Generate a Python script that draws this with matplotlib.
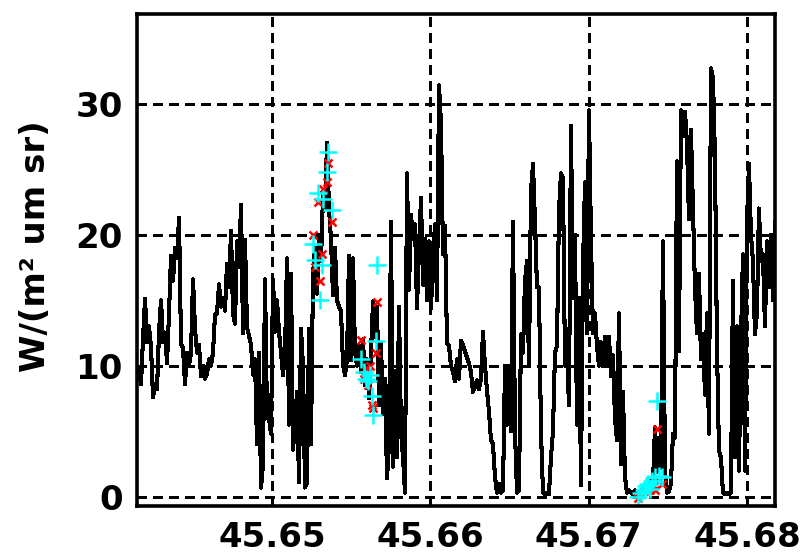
import numpy as np
import matplotlib
matplotlib.use("Agg")
import matplotlib.pyplot as plt
from matplotlib.ticker import FixedLocator, FormatStrFormatter

# ---- data -------------------------------------------------------------
time_start = 45.64148      # first sample time
time_step = 0.00012626     # regular sampling interval

radiance = [
    9.0, 9.8, 8.6, 12.1, 15.1, 11.8, 13.0, 11.4, 7.6, 8.6, 8.2, 12.6, 15.0, 11.8, 12.5, 10.2,
    14.0, 18.4, 16.5, 19.0, 18.2, 21.3, 11.7, 11.3, 8.6, 11.0, 10.0, 11.0, 16.6, 12.8, 11.0, 11.6,
    9.2, 10.0, 9.0, 9.4, 10.5, 10.0, 11.0, 13.9, 14.0, 16.2, 14.5, 15.2, 14.2, 17.8, 16.0, 20.3,
    14.0, 13.2, 19.5, 17.5, 22.3, 12.5, 19.6, 12.9, 12.3, 11.6, 9.3, 10.5, 4.0, 11.0, 0.7, 2.5,
    16.6, 6.0, 6.0, 4.8, 16.6, 12.6, 15.0, 12.6, 11.0, 9.3, 11.0, 18.2, 5.5, 17.0, 3.6, 5.5,
    8.0, 1.1, 12.8, 10.0, 0.7, 1.0, 12.8, 4.0, 17.0, 19.0, 15.5, 20.0, 18.0, 23.0, 22.0, 27.0,
    22.0, 19.6, 15.4, 19.0, 15.0, 14.5, 14.2, 10.1, 9.3, 10.5, 18.4, 10.4, 18.2, 11.1, 10.0, 11.5,
    9.5, 12.0, 8.5, 10.5, 7.5, 11.0, 14.9, 12.2, 14.5, 7.0, 11.7, 6.3, 9.0, 1.4, 4.0, 21.0,
    2.3, 9.6, 3.0, 14.5, 5.0, 3.0, 0.3, 24.7, 15.8, 21.5, 19.7, 20.8, 14.4, 19.0, 22.8, 16.2,
    19.7, 15.0, 19.5, 14.4, 18.0, 20.8, 15.0, 31.4, 28.5, 18.5, 20.7, 11.7, 11.5, 10.0, 9.5, 8.8,
    10.5, 9.0, 11.9, 11.6, 11.1, 10.6, 10.2, 9.5, 8.0, 8.4, 8.9, 8.2, 9.0, 12.6, 10.0, 8.1,
    6.5, 4.3, 4.0, 1.5, 0.3, 1.0, 0.3, 0.5, 10.0, 5.5, 10.0, 5.0, 21.0, 5.0, 0.3, 0.5,
    12.4, 11.0, 16.5, 18.0, 10.0, 23.3, 25.4, 21.0, 16.0, 16.0, 5.0, 0.3, 0.2, 0.3, 0.2, 3.0,
    5.0, 11.0, 11.5, 21.8, 24.7, 24.3, 10.0, 11.0, 7.0, 28.3, 15.2, 20.0, 5.5, 15.2, 0.9, 17.5,
    24.0, 12.5, 29.5, 19.7, 12.5, 14.0, 11.5, 10.0, 11.8, 10.0, 12.2, 10.0, 12.2, 9.2, 10.8, 6.0,
    4.3, 14.0, 2.5, 8.0, 1.5, 0.3, 0.5, 0.3, 0.2, 0.5, 0.2, 0.0, 0.3, 0.5, 0.8, 1.0,
    0.6, 1.2, 1.0, 5.3, 1.9, 4.5, 2.2, 19.5, 2.0, 0.3, 0.4, 1.0, 4.8, 4.5, 25.6, 11.1,
    29.5, 27.5, 29.4, 27.0, 21.2, 28.0, 22.0, 16.0, 12.5, 17.0, 10.5, 12.4, 7.8, 14.0, 4.8, 32.7,
    32.0, 26.0, 11.5, 3.5, 3.0, 0.3, 0.2, 0.3, 0.2, 0.3, 16.5, 3.0, 13.0, 2.0, 12.0, 18.5,
    2.0, 21.0, 25.4, 20.0, 18.0, 12.4, 14.0, 22.0, 18.0, 18.5, 13.0, 19.5, 16.0, 20.0, 15.0, 21.0,
    18.5,
]

marker_time = [
    45.65259, 45.65272, 45.65291, 45.65304, 45.65316, 45.65323, 45.65348, 45.65354, 45.65379,
    45.65562, 45.65581, 45.65594, 45.65607, 45.65619, 45.65632, 45.65638, 45.65657, 45.65663,
    45.67311, 45.67330, 45.67349, 45.67362, 45.67374, 45.67387, 45.67400, 45.67419, 45.67431,
    45.67444, 45.67463,
]
red_values = [
    20.0, 17.5, 22.5, 16.5, 18.5, 23.5, 24.0, 25.5, 21.0,
    12.0, 9.0, 9.8, 8.5, 10.0, 7.0, 6.8, 11.0, 14.9,
    -0.1, 0.2, 0.4, 0.6, 0.8, 0.5, 1.0, 0.5, 5.2, 1.2, 1.0,
]
cyan_values = [
    19.3, 18.1, 23.2, 15.0, 17.7, 22.7, 24.8, 26.3, 21.9,
    10.5, 9.5, 9.0, 8.8, 9.3, 7.7, 6.2, 11.9, 17.7,
    0.0, 0.3, 0.5, 0.8, 1.0, 0.6, 1.2, 1.5, 7.3, 1.6, 1.5,
]

x_ticks = [45.65, 45.66, 45.67, 45.68]
y_ticks = [0, 10, 20, 30]
y_label = "W/(m² um sr)"

# ---- figure -----------------------------------------------------------
W, H = 806, 553
fig = plt.figure(figsize=(W / 100, H / 100), dpi=100)
left, right, top, bottom = 136.7, 775.0, 14.0, 506.0
ax = fig.add_axes([left / W, 1 - bottom / H, (right - left) / W, (bottom - top) / H])

t = time_start + time_step * np.arange(len(radiance))
ax.plot(t, radiance, color="black", lw=2.2, zorder=3, antialiased=False)
ax.plot(marker_time, red_values, linestyle="none", marker="x", color="#ff0000",
        ms=6, mew=1.8, zorder=4, antialiased=False)
ax.plot(marker_time, cyan_values, linestyle="none", marker="+", color="#00ffff",
        ms=13, mew=1.8, zorder=5, antialiased=False)

ax.set_xlim(45.64146, 45.68176)
ax.set_ylim(-0.71, 36.85)
ax.xaxis.set_major_locator(FixedLocator(x_ticks))
ax.yaxis.set_major_locator(FixedLocator(y_ticks))
ax.xaxis.set_major_formatter(FormatStrFormatter("%.2f"))
ax.yaxis.set_major_formatter(FormatStrFormatter("%d"))

ax.grid(True, color="black", linewidth=2.4, linestyle=(0, (3.0, 1.9)), zorder=1,
        antialiased=False)
ax.set_axisbelow(True)
for s in ax.spines.values():
    s.set_linewidth(2.6)
    s.set_zorder(6)

ax.tick_params(direction="in", length=5, width=2, colors="black")
ax.tick_params(axis="x", pad=11)
ax.tick_params(axis="y", pad=10)
for lab in ax.get_xticklabels() + ax.get_yticklabels():
    lab.set_fontsize(24.5)
    lab.set_fontweight("bold")
    lab.set_family("DejaVu Sans")

fig.text(36 / W, 1 - 246 / H, y_label, rotation=90, ha="center", va="center",
         fontsize=24.5, fontweight="bold", family="DejaVu Sans")

fig.savefig("out.png", dpi=100)
